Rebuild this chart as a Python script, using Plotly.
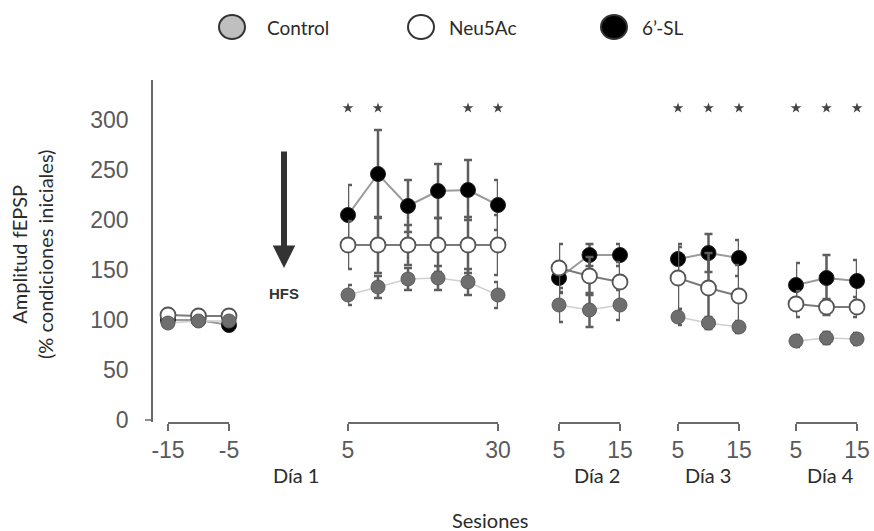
import plotly.graph_objects as go

# ---------------- data ----------------
series_names = ["Control", "Neu5Ac", "6\u2019-SL"]

# session times (min) per block
base_x = [-15, -10, -5]
d1_x = [5, 10, 15, 20, 25, 30]
d2_x = [5, 10, 15]
d3_x = [5, 10, 15]
d4_x = [5, 10, 15]

# Control
ctrl_base = [97, 99, 99]
ctrl_base_err = [3, 3, 3]
ctrl_d1 = [125, 133, 141, 142, 138, 125]
ctrl_d1_err = [10, 11, 11, 12, 13, 13]
ctrl_d2 = [115, 110, 115]
ctrl_d2_err = [17, 17, 15]
ctrl_d3 = [103, 97, 93]
ctrl_d3_err = [8, 6, 6]
ctrl_d4 = [79, 82, 81]
ctrl_d4_err = [6, 6, 6]

# Neu5Ac
neu_base = [105, 104, 104]
neu_base_err = [3, 3, 3]
neu_d1 = [175, 175, 175, 175, 175, 175]
neu_d1_err = [24, 28, 20, 27, 28, 30]
neu_d2 = [152, 144, 138]
neu_d2_err = [24, 19, 20]
neu_d3 = [142, 132, 124]
neu_d3_err = [31, 35, 31]
neu_d4 = [116, 113, 113]
neu_d4_err = [13, 8, 10]

# 6'-SL
sl_base = [100, 100, 95]
sl_base_err = [3, 3, 3]
sl_d1 = [205, 246, 214, 229, 230, 215]
sl_d1_err = [30, 44, 26, 27, 30, 25]
sl_d2 = [142, 165, 165]
sl_d2_err = [15, 11, 11]
sl_d3 = [161, 167, 162]
sl_d3_err = [15, 19, 18]
sl_d4 = [135, 142, 139]
sl_d4_err = [22, 23, 21]

# significance marks (*)
sig_d1_x = [5, 10, 25, 30]
sig_d3_x = [5, 10, 15]
sig_d4_x = [5, 10, 15]
sig_level = 312

y_ticks = [0, 50, 100, 150, 200, 250, 300]
block_labels = ["Día 1", "Día 2", "Día 3", "Día 4"]

# ---------------- layout geometry ----------------
W, H = 874, 531
MT, MB = 80, 109
PLOT_H = H - MT - MB
Y_BOTTOM_PX = H - MB


def px(x):
    return x / W


def py(y):
    return (Y_BOTTOM_PX - y) / PLOT_H


blocks = [
    dict(xs=base_x, dom=(168, 229), ticks=[-15, -5],
         ctrl=(ctrl_base, ctrl_base_err), neu=(neu_base, neu_base_err), sl=(sl_base, sl_base_err), sig=[]),
    dict(xs=d1_x, dom=(348, 498), ticks=[5, 30],
         ctrl=(ctrl_d1, ctrl_d1_err), neu=(neu_d1, neu_d1_err), sl=(sl_d1, sl_d1_err), sig=sig_d1_x),
    dict(xs=d2_x, dom=(559, 620), ticks=[5, 15],
         ctrl=(ctrl_d2, ctrl_d2_err), neu=(neu_d2, neu_d2_err), sl=(sl_d2, sl_d2_err), sig=[]),
    dict(xs=d3_x, dom=(678, 739), ticks=[5, 15],
         ctrl=(ctrl_d3, ctrl_d3_err), neu=(neu_d3, neu_d3_err), sl=(sl_d3, sl_d3_err), sig=sig_d3_x),
    dict(xs=d4_x, dom=(796, 857), ticks=[5, 15],
         ctrl=(ctrl_d4, ctrl_d4_err), neu=(neu_d4, neu_d4_err), sl=(sl_d4, sl_d4_err), sig=sig_d4_x),
]

styles = {
    "sl": dict(marker=dict(color="#000000", size=15, line=dict(color="#222222", width=1)),
               line=dict(color="#9a9a9a", width=2)),
    "neu": dict(marker=dict(color="#ffffff", size=15, line=dict(color="#555555", width=1.8)),
                line=dict(color="#7a7a7a", width=2)),
    "ctrl": dict(marker=dict(color="#6e6e6e", size=14, line=dict(color="#5a5a5a", width=1)),
                 line=dict(color="#cfcfcf", width=1.5)),
}
names = {"ctrl": series_names[0], "neu": series_names[1], "sl": series_names[2]}

fig = go.Figure()
TICKFONT = dict(family="Liberation Sans, Arial, sans-serif", size=23, color="#5a5a5a")
AXCOL = "#6a6a6a"

for i, b in enumerate(blocks):
    xa = "x" if i == 0 else f"x{i + 1}"
    for key in ["sl", "neu", "ctrl"]:
        vals, errs = b[key]
        fig.add_trace(go.Scatter(
            x=b["xs"], y=vals, name=names[key], mode="lines+markers",
            marker=styles[key]["marker"], line=styles[key]["line"],
            error_y=dict(type="data", array=errs, visible=True, color="#5e5e5e", thickness=2.5, width=4),
            xaxis=xa, yaxis="y", cliponaxis=False, showlegend=False,
        ))
    if b["sig"]:
        fig.add_trace(go.Scatter(
            x=b["sig"], y=[sig_level] * len(b["sig"]), mode="markers",
            marker=dict(symbol="star", size=8, color="#444444"),
            xaxis=xa, yaxis="y", cliponaxis=False, showlegend=False, hoverinfo="skip",
        ))
    axname = "xaxis" if i == 0 else f"xaxis{i + 1}"
    fig.layout[axname] = dict(
        domain=[px(b["dom"][0]), px(b["dom"][1])],
        range=[b["xs"][0], b["xs"][-1]],
        tickvals=b["ticks"], ticktext=[str(t) for t in b["ticks"]],
        showline=True, linecolor=AXCOL, linewidth=1.5,
        ticks="outside", ticklen=7, tickwidth=1.5, tickcolor=AXCOL,
        showgrid=False, zeroline=False, anchor="y", tickfont=TICKFONT,
        fixedrange=True,
    )

fig.update_layout(
    width=W, height=H,
    margin=dict(l=0, r=0, t=MT, b=MB, autoexpand=False),
    plot_bgcolor="white", paper_bgcolor="white",
    showlegend=False,
    yaxis=dict(
        domain=[0, 1], range=[-2, 340], anchor="free", position=px(152),
        tickvals=y_ticks, ticks="", ticklabelstandoff=18,
        showline=True, linecolor=AXCOL, linewidth=1.5,
        showgrid=False, zeroline=False, tickfont=TICKFONT,
    ),
)

TXT = dict(family="Lato, Open Sans, sans-serif", color="#2b2b2b")


def label(text, x, y, size, **kw):
    d = dict(x=px(x), y=py(y), xref="paper", yref="paper", showarrow=False,
             xanchor="center", yanchor="middle", text=text, font=dict(size=size, **TXT))
    d.update(kw)
    return d


ann = []
ann.append(label("Amplitud fEPSP<br>(% condiciones iniciales)", 32, 255, 20, textangle=-90, align="center"))
for lab, xp in zip(block_labels, [296, 597, 708, 830]):
    ann.append(label(lab, xp, 475, 20))
ann.append(label("Sesiones", 490, 520, 20))
# HFS arrow
ann.append(dict(x=px(284), y=py(268), xref="paper", yref="paper", text="",
                showarrow=True, ax=0, ay=-118, axref="pixel", ayref="pixel",
                arrowhead=2, arrowsize=0.75, arrowwidth=6, arrowcolor="#333333"))
ann.append(dict(x=px(284), y=py(293), xref="paper", yref="paper", showarrow=False,
                xanchor="center", yanchor="middle",
                text="<b>HFS</b>", font=dict(family="Liberation Sans, Arial", size=15, color="#333333")))
# manual legend
leg = [("Control", 232, "#bfbfbf", 265), ("Neu5Ac", 421, "#ffffff", 447), ("6\u2019-SL", 614, "#000000", 640)]
shapes = []
for text, cx, fill, tx in leg:
    shapes.append(dict(type="circle", xref="paper", yref="paper",
                       x0=px(cx - 13), x1=px(cx + 13), y0=py(27 + 12), y1=py(27 - 12),
                       fillcolor=fill, line=dict(color="#333333", width=2)))
    ann.append(label(text, tx, 27, 19, xanchor="left"))
# corner tick at 0 on y axis
shapes.append(dict(type="line", xref="paper", yref="y", x0=px(145), x1=px(152), y0=0, y1=0,
                   line=dict(color=AXCOL, width=1.5)))

fig.update_layout(annotations=ann, shapes=shapes)
fig.write_html("out.html", config={"displayModeBar": False},
               post_script="document.body.style.margin='0px';")
